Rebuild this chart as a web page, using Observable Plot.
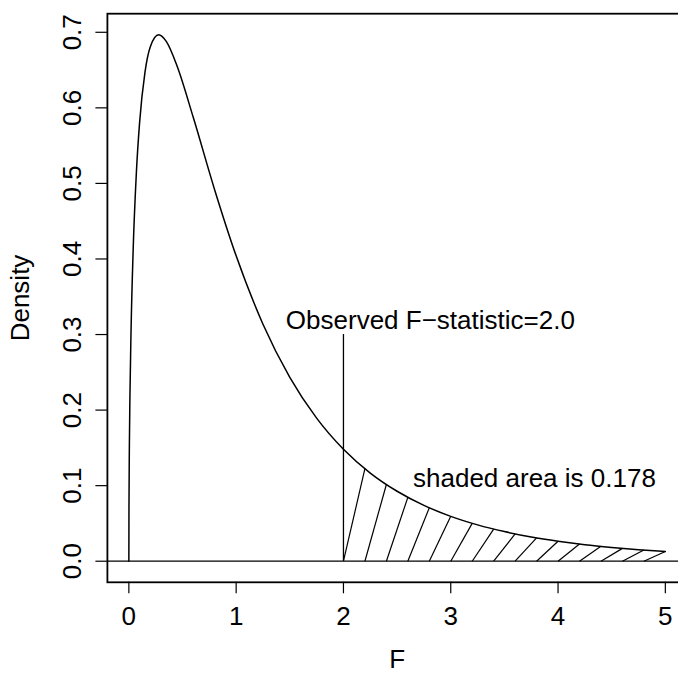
<!DOCTYPE html>
<html>
<head>
<meta charset="utf-8">
<script src="https://cdn.jsdelivr.net/npm/d3@7"></script>
<script src="https://cdn.jsdelivr.net/npm/@observablehq/plot@0.6"></script>
<style>
  html, body { margin: 0; padding: 0; background: #fff; overflow: hidden; width: 678px; height: 673px; }
</style>
</head>
<body>
<div id="chart"></div>
<script>
// F(3,10) density curve
const curveF = [0, 0.001, 0.005, 0.01, 0.02, 0.04, 0.07, 0.1, 0.15, 0.2, 0.278, 0.35, 0.45, 0.6, 0.8, 1.0, 1.25, 1.5, 1.75, 2.0, 2.25, 2.5, 2.75, 3.0, 3.25, 3.5, 3.75, 4.0, 4.25, 4.5, 4.75, 5.0];
const curveDensity = [0, 0.0702, 0.1557, 0.2181, 0.3025, 0.4116, 0.5141, 0.5804, 0.6470, 0.6810, 0.6967, 0.6876, 0.6551, 0.5875, 0.4914, 0.4041, 0.3137, 0.2434, 0.1894, 0.1482, 0.1167, 0.0926, 0.0739, 0.0594, 0.0481, 0.0392, 0.0321, 0.0265, 0.0219, 0.0183, 0.0153, 0.0129];

// hatching segments: from the baseline at hatchStart to the curve at hatchEnd
const hatchStart = [2.0, 2.2, 2.4, 2.6, 2.8, 3.0, 3.2, 3.4, 3.6, 3.8, 4.0, 4.2, 4.4, 4.6, 4.8];
const hatchEnd   = [2.2, 2.4, 2.6, 2.8, 3.0, 3.2, 3.4, 3.6, 3.8, 4.0, 4.2, 4.4, 4.6, 4.8, 5.0];
const hatchTop   = [0.1224, 0.1015, 0.0845, 0.0707, 0.0594, 0.0501, 0.0425, 0.0361, 0.0309, 0.0265, 0.0228, 0.0197, 0.0170, 0.0148, 0.0129];

const observedF = [2.0];
const observedLineTop = 0.3;

const xTicks = [0, 1, 2, 3, 4, 5];
const yTicks = [0, 0.1, 0.2, 0.3, 0.4, 0.5, 0.6, 0.7];

const labels = [
  {x: 2.81, y: 0.318, text: "Observed F\u2212statistic=2.0"},
  {x: 3.78, y: 0.109, text: "shaded area is 0.178"}
];

const curve = curveF.map((x, i) => ({x, y: curveDensity[i]}));
const hatch = hatchStart.map((x, i) => ({x1: x, x2: hatchEnd[i], y2: hatchTop[i]}));

const FONT = "'Liberation Sans', Arial, Helvetica, sans-serif";
const FS = 26;

const plot = Plot.plot({
  width: 700,
  height: 673,
  marginLeft: 106.9,
  marginRight: 13.7,
  marginTop: 13.2,
  marginBottom: 91.2,
  style: {fontFamily: FONT, fontSize: FS + "px", background: "#fff", maxWidth: "none", overflow: "visible"},
  x: {domain: [-0.2, 5.2], axis: null},
  y: {domain: [-0.0279, 0.7246], axis: null},
  marks: [
    Plot.axisX({ticks: xTicks, tickSize: 11.5, tickPadding: 13, tickFormat: d3.format("d"), label: null, fontSize: FS, stroke: "#000", strokeWidth: 1.2}),
    Plot.axisY({ticks: yTicks, tickSize: 11.5, tickFormat: () => "", label: null, stroke: "#000", strokeWidth: 1.2}),
    Plot.text(yTicks, {y: d => d, frameAnchor: "left", dx: -34.5, rotate: -90, text: d => d3.format(".1f")(d), textAnchor: "middle", lineAnchor: "middle", fontSize: FS, fill: "#000"}),
    Plot.text(["F"], {frameAnchor: "bottom", dy: 77, text: d => d, textAnchor: "middle", lineAnchor: "middle", fontSize: FS, fill: "#000"}),
    Plot.text(["Density"], {frameAnchor: "left", dx: -86.5, rotate: -90, text: d => d, textAnchor: "middle", lineAnchor: "middle", fontSize: FS, fill: "#000"}),
    Plot.ruleY([0], {stroke: "#000", strokeWidth: 1.3}),
    Plot.ruleX(observedF, {x: d => d, y1: 0, y2: observedLineTop, stroke: "#000", strokeWidth: 1.3}),
    Plot.link(hatch, {x1: "x1", y1: 0, x2: "x2", y2: "y2", stroke: "#000", strokeWidth: 1.2}),
    Plot.line(curve, {x: "x", y: "y", curve: "monotone-x", stroke: "#000", strokeWidth: 1.5}),
    Plot.text(labels, {x: "x", y: "y", text: "text", textAnchor: "middle", lineAnchor: "middle", fontSize: FS, fill: "#000"}),
    Plot.frame({stroke: "#000", strokeWidth: 1.8})
  ]
});
document.getElementById("chart").appendChild(plot);
</script>
</body>
</html>
